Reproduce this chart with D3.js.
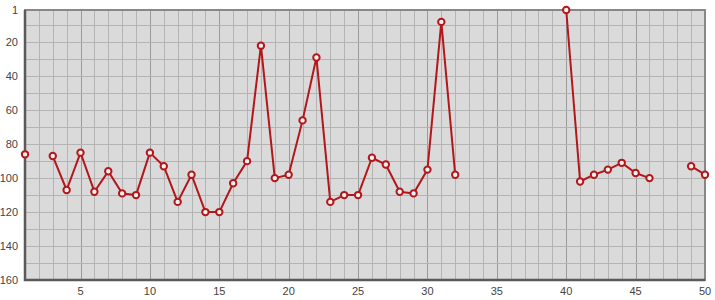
<!DOCTYPE html>
<html>
<head>
<meta charset="utf-8">
<script src="https://cdn.jsdelivr.net/npm/d3@7"></script>
<style>
  body { margin: 0; background: #fff; }
  .tick-label { font-family: "Liberation Sans", Arial, sans-serif; font-size: 11px; fill: #444; }
</style>
</head>
<body>
<div id="chart"></div>
<script>
var positions = [1, 2, 3, 4, 5, 6, 7, 8, 9, 10,
                 11, 12, 13, 14, 15, 16, 17, 18, 19, 20,
                 21, 22, 23, 24, 25, 26, 27, 28, 29, 30,
                 31, 32, 33, 34, 35, 36, 37, 38, 39, 40,
                 41, 42, 43, 44, 45, 46, 47, 48, 49, 50];
var ranks = [86, null, 87, 107, 85, 108, 96, 109, 110, 85,
             93, 114, 98, 120, 120, 103, 90, 22, 100, 98,
             66, 29, 114, 110, 110, 88, 92, 108, 109, 95,
             8, 98, null, null, null, null, null, null, null, 1,
             102, 98, 95, 91, 97, 100, null, null, 93, 98];
var xTickLabels = [5, 10, 15, 20, 25, 30, 35, 40, 45, 50];
var yTickLabels = [1, 20, 40, 60, 80, 100, 120, 140, 160];

var margin = {top: 10, right: 10, bottom: 20, left: 25};
var width = 715 - margin.left - margin.right;
var height = 300 - margin.top - margin.bottom;

var data = positions.map(function(p, i) { return {pos: p, rank: ranks[i]}; });

var svg = d3.select("#chart")
          .append("svg")
            .attr("width", 715)
            .attr("height", 300)
          .append("g")
            .attr("transform", "translate(" + margin.left + "," + margin.top + ")");

var xScale = d3.scaleLinear().domain([1, 50]).range([0, width]);
var yScale = d3.scaleLinear().domain([1, 160]).range([0, height]);

svg.append("rect")
   .attr("width", width)
   .attr("height", height)
   .attr("fill", "#dadada");

// grid
svg.selectAll(".vgrid")
   .data(d3.range(2, 50))
   .enter().append("line")
   .attr("x1", function(d) { return Math.round(xScale(d)) + 0.5; })
   .attr("x2", function(d) { return Math.round(xScale(d)) + 0.5; })
   .attr("y1", 0)
   .attr("y2", height)
   .attr("stroke", function(d) { return d % 5 == 0 ? "#9a9a9a" : "#b4b4b4"; })
   .attr("stroke-width", 1);

svg.selectAll(".hgrid")
   .data(d3.range(10, 160, 10))
   .enter().append("line")
   .attr("x1", 0)
   .attr("x2", width)
   .attr("y1", function(d) { return Math.round(yScale(d)) + 0.5; })
   .attr("y2", function(d) { return Math.round(yScale(d)) + 0.5; })
   .attr("stroke", "#b4b4b4")
   .attr("stroke-width", 1);

// frame
svg.append("rect")
   .attr("width", width)
   .attr("height", height)
   .attr("fill", "none")
   .attr("stroke", "#888")
   .attr("stroke-width", 2);
svg.append("path")
   .attr("d", "M0,0V" + height + "H" + width)
   .attr("fill", "none")
   .attr("stroke", "#5a5a5a")
   .attr("stroke-width", 2.5);

// tick labels
svg.selectAll(".xlabel")
   .data(xTickLabels)
   .enter().append("text")
   .attr("class", "tick-label")
   .attr("x", function(d) { return xScale(d); })
   .attr("y", height + 15)
   .attr("text-anchor", "middle")
   .text(function(d) { return d; });

svg.selectAll(".ylabel")
   .data(yTickLabels)
   .enter().append("text")
   .attr("class", "tick-label")
   .attr("x", -7)
   .attr("y", function(d) { return yScale(d) + 4; })
   .attr("text-anchor", "end")
   .text(function(d) { return d; });

// series
var line = d3.line()
             .defined(function(d) { return d.rank != null; })
             .x(function(d) { return xScale(d.pos); })
             .y(function(d) { return yScale(d.rank); });

svg.append("path")
   .datum(data)
   .attr("d", line)
   .attr("fill", "none")
   .attr("stroke", "#b3161b")
   .attr("stroke-width", 2)
   .attr("stroke-linejoin", "round");

svg.selectAll(".dot")
   .data(data.filter(function(d) { return d.rank != null; }))
   .enter().append("circle")
   .attr("cx", function(d) { return xScale(d.pos); })
   .attr("cy", function(d) { return yScale(d.rank); })
   .attr("r", 3.2)
   .attr("fill", "#f2f2f2")
   .attr("stroke", "#b3161b")
   .attr("stroke-width", 2);
</script>
</body>
</html>
